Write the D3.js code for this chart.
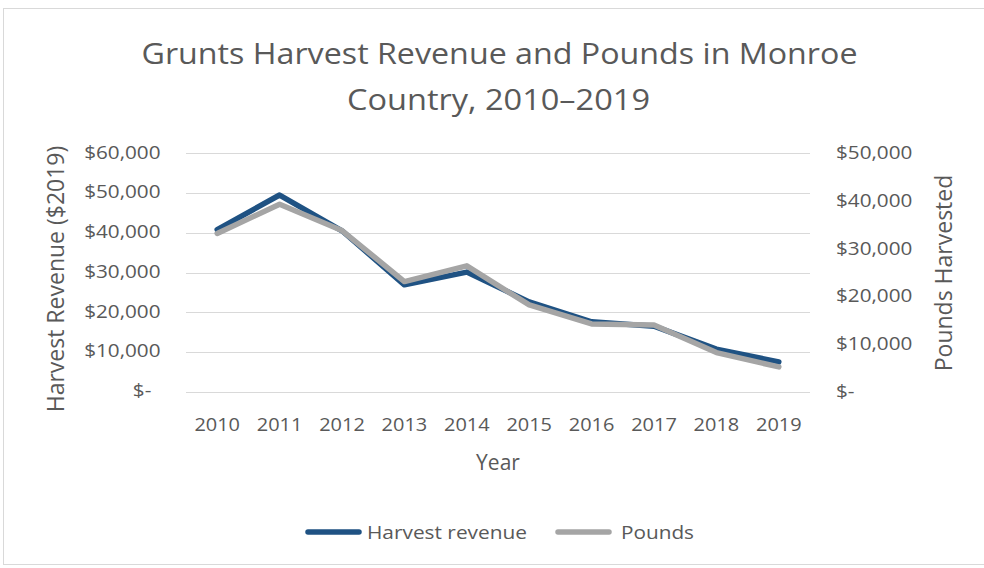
<!DOCTYPE html>
<html>
<head>
<meta charset="utf-8">
<script src="https://cdn.jsdelivr.net/npm/d3@7"></script>
<style>
  html, body { margin: 0; padding: 0; background: #fff; }
  svg { display: block; }
  text { font-family: "Open Sans", "Noto Sans", sans-serif; fill: #595959; }
</style>
</head>
<body>
<svg id="chart" width="984" height="568"></svg>
<script>
// Grunts harvest, Monroe County, 2010–2019
const years = ["2010","2011","2012","2013","2014","2015","2016","2017","2018","2019"];
const revenue = [40800, 49500, 40500, 26900, 30100, 22600, 17600, 16500, 10700, 7500];
const pounds  = [33200, 39300, 33800, 23100, 26400, 18200, 14200, 14000, 8200, 5200];
const leftTicks  = [0, 10000, 20000, 30000, 40000, 50000, 60000];
const rightTicks = [0, 10000, 20000, 30000, 40000, 50000];

const svg = d3.select("#chart");
const W = 984;
const plot = { left: 186, right: 810, top: 153.3, bottom: 391.7 };

// chart frame
svg.append("rect")
  .attr("x", 3.5).attr("y", 8.5)
  .attr("width", W + 10).attr("height", 556)
  .attr("fill", "#fff").attr("stroke", "#d9d9d9").attr("stroke-width", 1);

// title, two lines, fitted to fixed widths
const title = svg.append("g").style("font-size", "29px");
title.append("text")
  .attr("x", 141.5).attr("y", 63.5)
  .attr("textLength", 716).attr("lengthAdjust", "spacingAndGlyphs")
  .text("Grunts Harvest Revenue and Pounds in Monroe");
title.append("text")
  .attr("x", 347).attr("y", 109.5)
  .attr("textLength", 303).attr("lengthAdjust", "spacingAndGlyphs")
  .text("Country, 2010\u20132019");

const x = d3.scaleBand().domain(years).range([plot.left, plot.right]);
const yL = d3.scaleLinear().domain([0, 60000]).range([plot.bottom, plot.top]);
const yR = d3.scaleLinear().domain([0, 50000]).range([plot.bottom, plot.top]);

const money = v => v === 0 ? "$-" : "$" + d3.format(",")(v);

// gridlines
svg.append("g")
  .selectAll("line")
  .data(leftTicks)
  .join("line")
  .attr("x1", plot.left).attr("x2", plot.right)
  .attr("y1", d => Math.round(yL(d)) + 0.5).attr("y2", d => Math.round(yL(d)) + 0.5)
  .attr("stroke", "#d9d9d9").attr("stroke-width", 1);

// left axis
const axL = svg.append("g")
  .attr("transform", `translate(${plot.left - 25.5},0)`)
  .call(d3.axisLeft(yL).tickValues(leftTicks).tickFormat(money).tickSize(0).tickPadding(0));
axL.select(".domain").remove();
axL.selectAll("text")
  .style("font-size", "18px").attr("fill", "#595959")
  .attr("dy", "0.27em")
  .attr("transform", "scale(1.15,1)");
axL.selectAll("text").filter(d => d === 0).attr("x", -8);

// right axis
const axR = svg.append("g")
  .attr("transform", `translate(${plot.right + 26},0)`)
  .call(d3.axisRight(yR).tickValues(rightTicks).tickFormat(money).tickSize(0).tickPadding(0));
axR.select(".domain").remove();
axR.selectAll("text")
  .style("font-size", "18px").attr("fill", "#595959")
  .attr("dy", "0.3em")
  .attr("transform", "scale(1.15,1)");

// bottom axis
const axB = svg.append("g")
  .attr("transform", `translate(0,${plot.bottom + 33})`)
  .call(d3.axisBottom(x).tickSize(0).tickPadding(0));
axB.select(".domain").remove();
axB.selectAll("text")
  .style("font-size", "19px").attr("fill", "#595959")
  .attr("dy", "0.35em")
  .attr("transform", "scale(1.05,1)");

// axis titles
svg.append("text")
  .attr("transform", `translate(64,279) rotate(-90)`)
  .attr("text-anchor", "middle")
  .style("font-size", "23px")
  .text("Harvest Revenue ($2019)");
svg.append("text")
  .attr("transform", `translate(952,273) rotate(-90)`)
  .attr("text-anchor", "middle")
  .style("font-size", "23px")
  .text("Pounds Harvested");
svg.append("text")
  .attr("x", 498).attr("y", 470)
  .attr("text-anchor", "middle")
  .style("font-size", "21px")
  .text("Year");

// series lines
const cx = d => x(d) + x.bandwidth() / 2;
const lineL = d3.line().x((d, i) => cx(years[i])).y(d => yL(d));
const lineR = d3.line().x((d, i) => cx(years[i])).y(d => yR(d));

svg.append("path")
  .datum(revenue)
  .attr("d", lineL)
  .attr("fill", "none").attr("stroke", "#1f5283").attr("stroke-width", 5.5)
  .attr("stroke-linejoin", "round").attr("stroke-linecap", "round");
svg.append("path")
  .datum(pounds)
  .attr("d", lineR)
  .attr("fill", "none").attr("stroke", "#a5a5a5").attr("stroke-width", 5.5)
  .attr("stroke-linejoin", "round").attr("stroke-linecap", "round");

// legend
const legend = [
  { name: "Harvest revenue", color: "#1f5283", x: 305, tx: 62, len: 160 },
  { name: "Pounds", color: "#a5a5a5", x: 555, tx: 66, len: 73 }
];
const lg = svg.append("g").selectAll("g").data(legend).join("g")
  .attr("transform", d => `translate(${d.x},532)`);
lg.append("line")
  .attr("x1", 3).attr("x2", 54).attr("y1", 0).attr("y2", 0)
  .attr("stroke", d => d.color).attr("stroke-width", 5.5).attr("stroke-linecap", "round");
lg.append("text")
  .attr("x", d => d.tx).attr("y", 0).attr("dy", "0.35em")
  .attr("textLength", d => d.len).attr("lengthAdjust", "spacingAndGlyphs")
  .style("font-size", "19px")
  .text(d => d.name);
</script>
</body>
</html>
